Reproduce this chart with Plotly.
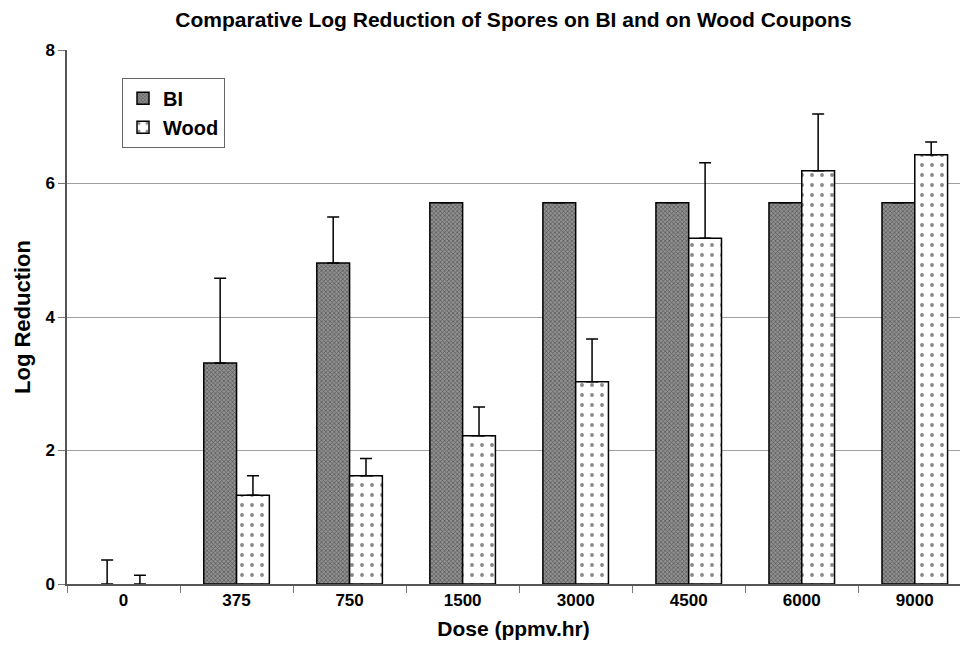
import plotly.graph_objects as go

doses = ["0", "375", "750", "1500", "3000", "4500", "6000", "9000"]
bi_values = [0, 3.31, 4.81, 5.71, 5.71, 5.71, 5.71, 5.71]
bi_err = [0.36, 1.27, 0.69, 0, 0, 0, 0, 0]
wood_values = [0, 1.33, 1.62, 2.22, 3.03, 5.18, 6.19, 6.43]
wood_err = [0.13, 0.29, 0.26, 0.43, 0.64, 1.13, 0.85, 0.19]
y_ticks = [0, 2, 4, 6, 8]

FONT = "Liberation Sans, Arial, sans-serif"

BI_PATTERN = dict(shape="x", size=3, solidity=0.4, fgcolor="#1a1a1a", bgcolor="#909090")
WOOD_PATTERN = dict(shape=".", size=10, solidity=0.12, fgcolor="#111111", bgcolor="white")


def outline(vals):
    return [1.5 if v > 0 else 0 for v in vals]


fig = go.Figure()
fig.add_trace(go.Bar(
    name="BI", x=doses, y=bi_values, showlegend=False, legendgroup="bi", offsetgroup="bi",
    marker=dict(color="#8a8a8a", line=dict(color="black", width=outline(bi_values)),
                pattern=BI_PATTERN),
    error_y=dict(type="data", symmetric=False, array=bi_err, arrayminus=[0]*len(bi_err),
                 color="black", thickness=1.5, width=6),
))
fig.add_trace(go.Bar(
    name="Wood", x=doses, y=wood_values, showlegend=False, legendgroup="wood", offsetgroup="wood",
    marker=dict(color="white", line=dict(color="black", width=outline(wood_values)),
                pattern=WOOD_PATTERN),
    error_y=dict(type="data", symmetric=False, array=wood_err, arrayminus=[0]*len(wood_err),
                 color="black", thickness=1.5, width=6),
))
# legend entries (no data)
fig.add_trace(go.Bar(name="BI", x=[None], y=[None], legendgroup="bi", offsetgroup="bi",
                     marker=dict(color="#8a8a8a", line=dict(color="black", width=1.5),
                                 pattern=BI_PATTERN)))
fig.add_trace(go.Bar(name="Wood", x=[None], y=[None], legendgroup="wood", offsetgroup="wood",
                     marker=dict(color="white", line=dict(color="black", width=1.5),
                                 pattern=WOOD_PATTERN)))

fig.update_layout(
    width=960, height=645,
    margin=dict(l=67, r=0, t=50, b=61),
    paper_bgcolor="white", plot_bgcolor="white",
    barmode="group", bargap=0.42, bargroupgap=0,
    font=dict(family=FONT, color="black"),
    title=dict(text="<b>Comparative Log Reduction of Spores on BI and on Wood Coupons</b>",
               x=0.5, xref="paper", xanchor="center", y=1 - 20/645, yref="container",
               yanchor="middle", font=dict(size=21, family=FONT)),
    legend=dict(x=0.0616, y=0.948, xanchor="left", yanchor="top",
                bgcolor="white", bordercolor="#666", borderwidth=1,
                font=dict(size=20, family=FONT, weight="bold"),
                itemwidth=30, tracegroupgap=0, traceorder="normal"),
    showlegend=True,
)
fig.update_xaxes(
    type="category", range=[-0.5, 7.4],
    showline=True, linecolor="#555", linewidth=1.5,
    ticks="outside", tickson="boundaries", ticklen=7, tickcolor="#777",
    tickfont=dict(size=17, family=FONT, weight="bold"),
    title=dict(text="<b>Dose (ppmv.hr)</b>", font=dict(size=21, family=FONT), standoff=12),
    showgrid=False,
)
fig.update_yaxes(
    range=[0, 8], tickvals=y_ticks,
    showline=True, linecolor="#555", linewidth=1.5,
    ticks="outside", ticklen=7, tickcolor="#777",
    tickfont=dict(size=17, family=FONT, weight="bold"),
    title=dict(text="<b>Log Reduction</b>", font=dict(size=22, family=FONT), standoff=9),
    showgrid=True, gridcolor="#a0a0a0", gridwidth=1, zeroline=False,
)

fig.write_html("out.html", config={"displayModeBar": False},
               post_script="document.body.style.margin='0';document.body.style.overflow='hidden';")
